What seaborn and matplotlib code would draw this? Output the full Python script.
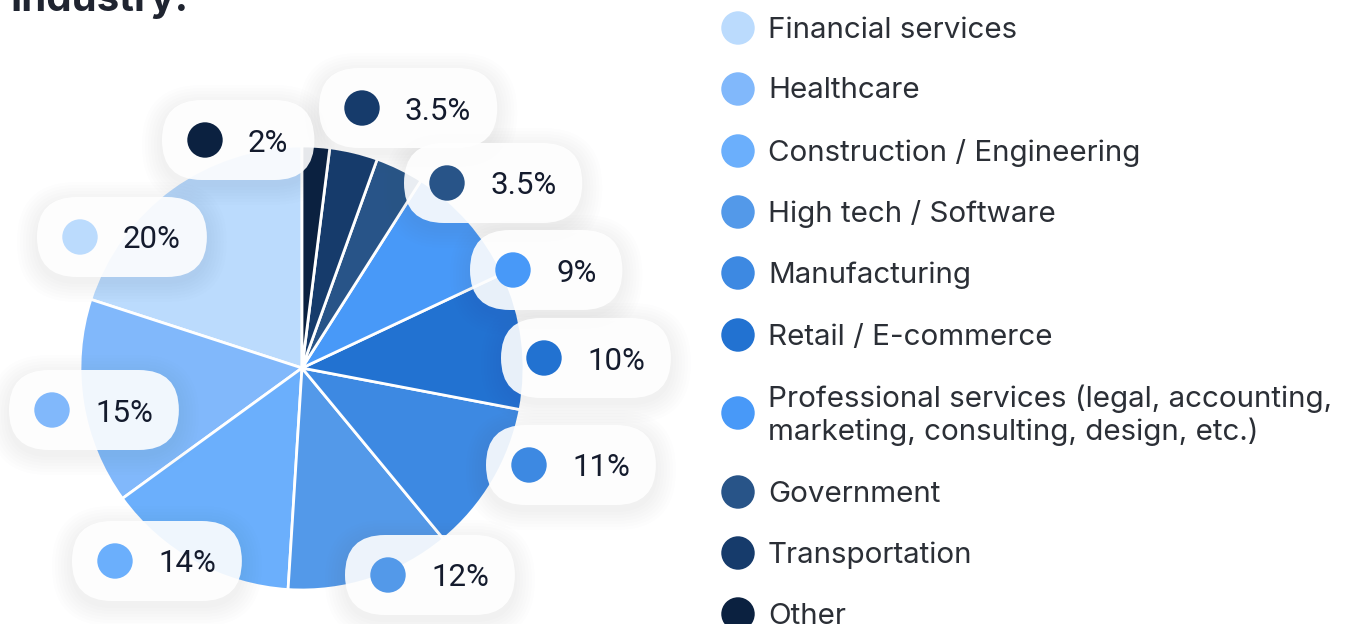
import matplotlib
matplotlib.use("Agg")
import matplotlib.pyplot as plt
import seaborn as sns
from matplotlib.patches import FancyBboxPatch

# ---------------- data ----------------
categories = [
    "Financial services",
    "Healthcare",
    "Construction / Engineering",
    "High tech / Software",
    "Manufacturing",
    "Retail / E-commerce",
    "Professional services (legal, accounting,\nmarketing, consulting, design, etc.)",
    "Government",
    "Transportation",
    "Other",
]
shares = [20, 15, 14, 12, 11, 10, 9, 3.5, 3.5, 2]
pct_labels = ["20%", "15%", "14%", "12%", "11%", "10%", "9%", "3.5%", "3.5%", "2%"]
colors = ["#BBDBFD", "#81B8FB", "#6BAFFC", "#5399E9", "#3D89E2",
          "#2272D1", "#4899F8", "#285488", "#163B6B", "#0B2140"]
title = "Industry:"

# ---------------- layout (pixels, top-left origin) ----------------
W, H = 1351, 624
pie_center = (302, 368)
pie_radius = 222
bubble_dot_xy = [(80, 237), (52, 410), (115, 561), (388, 575), (529, 465),
                 (544, 358), (513, 270), (447, 183), (362, 108), (205, 140)]
legend_x = 738
legend_y = [28, 89, 151, 212, 273, 335, 413, 492, 553, 614]

sns.set_theme(style="white")
plt.rcParams["font.family"] = ["Inter", "DejaVu Sans"]

fig = plt.figure(figsize=(W / 100, H / 100), dpi=100)
ax = fig.add_axes([0, 0, 1, 1])

def fy(y):
    return H - y

# pie
ax.pie(shares, colors=colors, startangle=90, counterclock=True,
       center=(pie_center[0], fy(pie_center[1])), radius=pie_radius,
       wedgeprops=dict(linewidth=2, edgecolor="white"))
ax.set_xlim(0, W)
ax.set_ylim(0, H)
ax.set_aspect("equal")
ax.axis("off")

# labels text first to measure
texts = []
for (dx, dy), lab in zip(bubble_dot_xy, pct_labels):
    t = ax.text(dx + 43, fy(dy), lab, ha="left", va="center_baseline",
                fontsize=22.5, color="#141b2d", zorder=6,
                family=["Roboto", "DejaVu Sans"])
    texts.append(t)
fig.canvas.draw()
r = fig.canvas.get_renderer()
ph = 80
for (dx, dy), t in zip(bubble_dot_xy, texts):
    bb = t.get_window_extent(renderer=r)
    left = dx - 43
    right = bb.x1 + 26
    wdt = right - left
    cy = fy(dy)
    # soft shadow
    for k in range(7):
        pad = 2 + k * 3
        sh = FancyBboxPatch((left - pad, cy - ph / 2 - pad - 5), wdt + 2 * pad, ph + 2 * pad,
                            boxstyle=f"round,pad=0,rounding_size={ph/2 + pad}",
                            fc="#5a6b85", ec="none", alpha=0.010, zorder=2)
        ax.add_patch(sh)
    p = FancyBboxPatch((left, cy - ph / 2), wdt, ph,
                       boxstyle=f"round,pad=0,rounding_size={ph/2}",
                       fc="white", ec="none", alpha=0.9, zorder=3)
    ax.add_patch(p)

# bubble dots
sns.scatterplot(x=[p[0] for p in bubble_dot_xy], y=[fy(p[1]) for p in bubble_dot_xy],
                hue=categories, palette=colors, hue_order=categories,
                s=650, linewidth=0, legend=False, ax=ax, zorder=5)

# legend
sns.scatterplot(x=[legend_x] * len(categories), y=[fy(v) for v in legend_y],
                hue=categories, palette=colors, hue_order=categories,
                s=580, linewidth=0, legend=False, ax=ax, zorder=5, clip_on=False)
for y, cat in zip(legend_y, categories):
    ax.text(legend_x + 30, fy(y + 2), cat, ha="left", va="center", fontsize=21.3,
            color="#2b2f36", linespacing=1.2, zorder=6)

ax.set_xlim(0, W)
ax.set_ylim(0, H)

# title (cut off at top)
fig.text(10 / W, 1 - 11 / H, title, ha="left", va="baseline", fontsize=29,
         fontweight="bold", color="#1f2430")

fig.savefig("out.png", dpi=100)
